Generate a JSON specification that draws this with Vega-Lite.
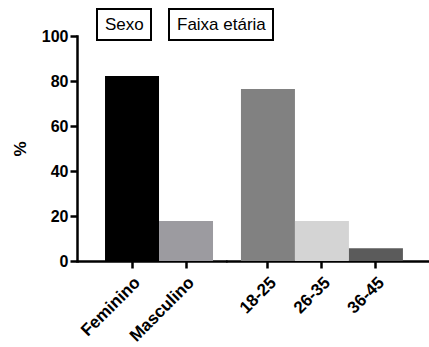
{
  "$schema": "https://vega.github.io/schema/vega-lite/v6.json",
  "background": "white",
  "padding": {"left": 11, "top": 8, "right": 0, "bottom": 0},
  "spacing": 0,
  "bounds": "flush",
  "config": {
    "view": {"stroke": null},
    "font": "Liberation Sans",
    "axis": {
      "domainColor": "black", "domainWidth": 2.5, "domainCap": "square",
      "tickColor": "black", "tickWidth": 2.5, "tickSize": 7,
      "labelColor": "black", "labelFontWeight": "bold", "labelFont": "Liberation Sans",
      "titleColor": "black", "titleFont": "Liberation Sans", "grid": false
    },
    "legend": {
      "orient": "none", "strokeColor": "black", "strokeWidth": 2, "padding": 7,
      "labelFontSize": 17, "labelColor": "black", "labelFont": "Liberation Sans",
      "symbolSize": 0, "symbolStrokeWidth": 0, "symbolOpacity": 0, "labelOffset": -16,
      "title": null
    }
  },
  "datasets": {
    "sexo": [
      {"categoria": "Feminino", "pct": 82.2, "grupo": "Sexo"},
      {"categoria": "Masculino", "pct": 17.8, "grupo": "Sexo"}
    ],
    "faixa": [
      {"categoria": "18-25", "pct": 76.4, "grupo": "Faixa etária"},
      {"categoria": "26-35", "pct": 17.8, "grupo": "Faixa etária"},
      {"categoria": "36-45", "pct": 5.7, "grupo": "Faixa etária"}
    ]
  },
  "hconcat": [
    {
      "data": {"name": "sexo"},
      "width": 150,
      "height": 225,
      "mark": {"type": "bar"},
      "encoding": {
        "x": {
          "field": "categoria", "type": "nominal", "sort": null,
          "scale": {"paddingInner": 0, "paddingOuter": 0.389, "align": 0.667},
          "axis": {"title": null, "labelAngle": -45, "labelFontSize": 17, "labelPadding": 6, "domainCap": "butt"}
        },
        "y": {
          "field": "pct", "type": "quantitative",
          "scale": {"domain": [0, 100], "nice": false},
          "axis": {"title": "%", "values": [0, 20, 40, 60, 80, 100], "labelFontSize": 16, "titleFontSize": 17, "titleFontWeight": "bold", "titlePadding": 12}
        },
        "color": {
          "field": "categoria", "type": "nominal",
          "scale": {"domain": ["Feminino", "Masculino"], "range": ["#000000", "#9c9ba0"]},
          "legend": null
        },
        "opacity": {
          "field": "grupo", "type": "nominal",
          "scale": {"domain": ["Sexo"], "range": [1]},
          "legend": {"legendX": 20, "legendY": -27}
        }
      }
    },
    {
      "data": {"name": "faixa"},
      "width": 203,
      "height": 225,
      "mark": {"type": "bar"},
      "encoding": {
        "x": {
          "field": "categoria", "type": "nominal", "sort": null,
          "scale": {"paddingInner": 0, "paddingOuter": 0.38, "align": 0.34},
          "axis": {"title": null, "labelAngle": -45, "labelFontSize": 17, "labelPadding": 6}
        },
        "y": {
          "field": "pct", "type": "quantitative",
          "scale": {"domain": [0, 100], "nice": false},
          "axis": null
        },
        "color": {
          "field": "categoria", "type": "nominal",
          "scale": {"domain": ["18-25", "26-35", "36-45"], "range": ["#818181", "#d4d4d4", "#5b5b5b"]},
          "legend": null
        },
        "opacity": {
          "field": "grupo", "type": "nominal",
          "scale": {"domain": ["Faixa etária"], "range": [1]},
          "legend": {"legendX": -58, "legendY": -27}
        }
      }
    }
  ],
  "resolve": {
    "scale": {"y": "shared", "color": "independent", "opacity": "independent", "x": "independent"},
    "legend": {"color": "independent", "opacity": "independent"}
  }
}
